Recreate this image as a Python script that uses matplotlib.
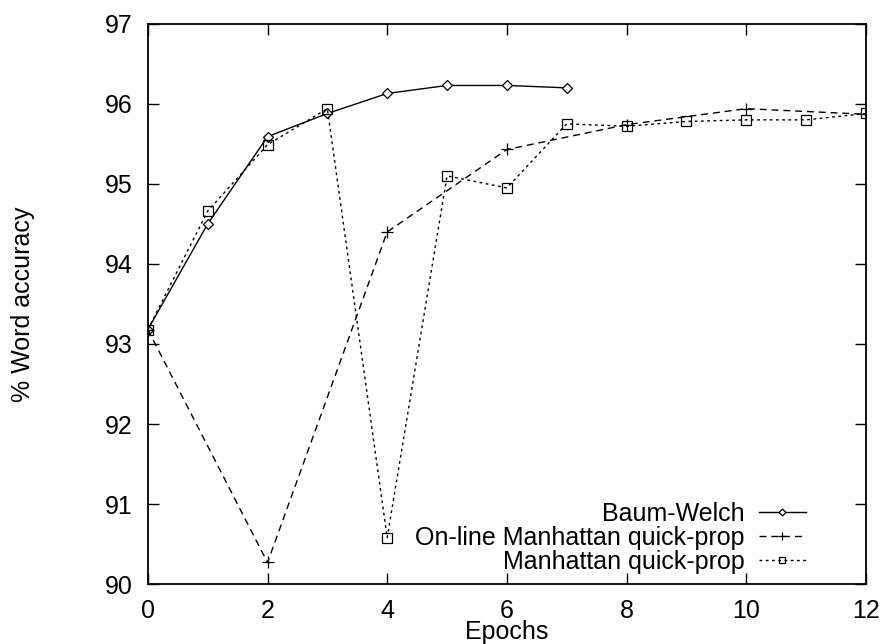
import matplotlib
matplotlib.use("Agg")
import matplotlib.pyplot as plt

plt.rcParams['font.family'] = ['Liberation Sans', 'DejaVu Sans']

# Word accuracy (%) per training epoch
bw_epochs = [0, 1, 2, 3, 4, 5, 6, 7]
bw_acc = [93.18, 94.50, 95.59, 95.88, 96.13, 96.23, 96.23, 96.20]

online_epochs = [0, 2, 4, 6, 8, 10, 12]
online_acc = [93.18, 90.27, 94.40, 95.43, 95.74, 95.94, 95.87]

mqp_epochs = [0, 1, 2, 3, 4, 5, 6, 7, 8, 9, 10, 11, 12]
mqp_acc = [93.18, 94.66, 95.49, 95.94, 90.58, 95.10, 94.95, 95.75, 95.72,
           95.78, 95.80, 95.80, 95.88]

labels = ["Baum-Welch", "On-line Manhattan quick-prop", "Manhattan quick-prop"]
x_ticks = [0, 2, 4, 6, 8, 10, 12]
y_ticks = [90, 91, 92, 93, 94, 95, 96, 97]

FS = 18

fig = plt.figure(figsize=(8.8, 6.44), dpi=100)
ax = fig.add_axes([0.168, 0.093, 0.816, 0.870])

ax.plot(bw_epochs, bw_acc, color='black', lw=1.0, ls='-',
        marker='D', markersize=5, markerfacecolor='white',
        markeredgecolor='black', markeredgewidth=0.9, label=labels[0])
ax.plot(online_epochs, online_acc, color='black', lw=1.0,
        ls=(0, (5, 3.5)), marker='+', markersize=8,
        markeredgewidth=0.9, label=labels[1])
ax.plot(mqp_epochs, mqp_acc, color='black', lw=1.0,
        ls=(0, (2, 2.5)), marker='s', markersize=7,
        markerfacecolor='none', markeredgecolor='black',
        markeredgewidth=0.9, label=labels[2])

ax.set_xlim(0, 12)
ax.set_ylim(90, 97)
ax.set_xticks(x_ticks)
ax.set_yticks(y_ticks)
ax.tick_params(direction='in', length=8, width=1.0, top=True, right=True,
               labelsize=FS)
ax.tick_params(axis='x', pad=11)
ax.tick_params(axis='y', pad=11)
for s in ax.spines.values():
    s.set_linewidth(1.3)

ax.set_xlabel("Epochs", fontsize=FS, labelpad=-2.5)
ax.set_ylabel("% Word accuracy", fontsize=FS, labelpad=50)

leg = ax.legend(loc='lower right', frameon=False, markerfirst=False,
                fontsize=FS, handlelength=1.85, handletextpad=0.6,
                labelspacing=0.0, markerscale=0.7, borderpad=0,
                borderaxespad=0, bbox_to_anchor=(0.916, 0.018))

fig.savefig("out.png", dpi=100)
